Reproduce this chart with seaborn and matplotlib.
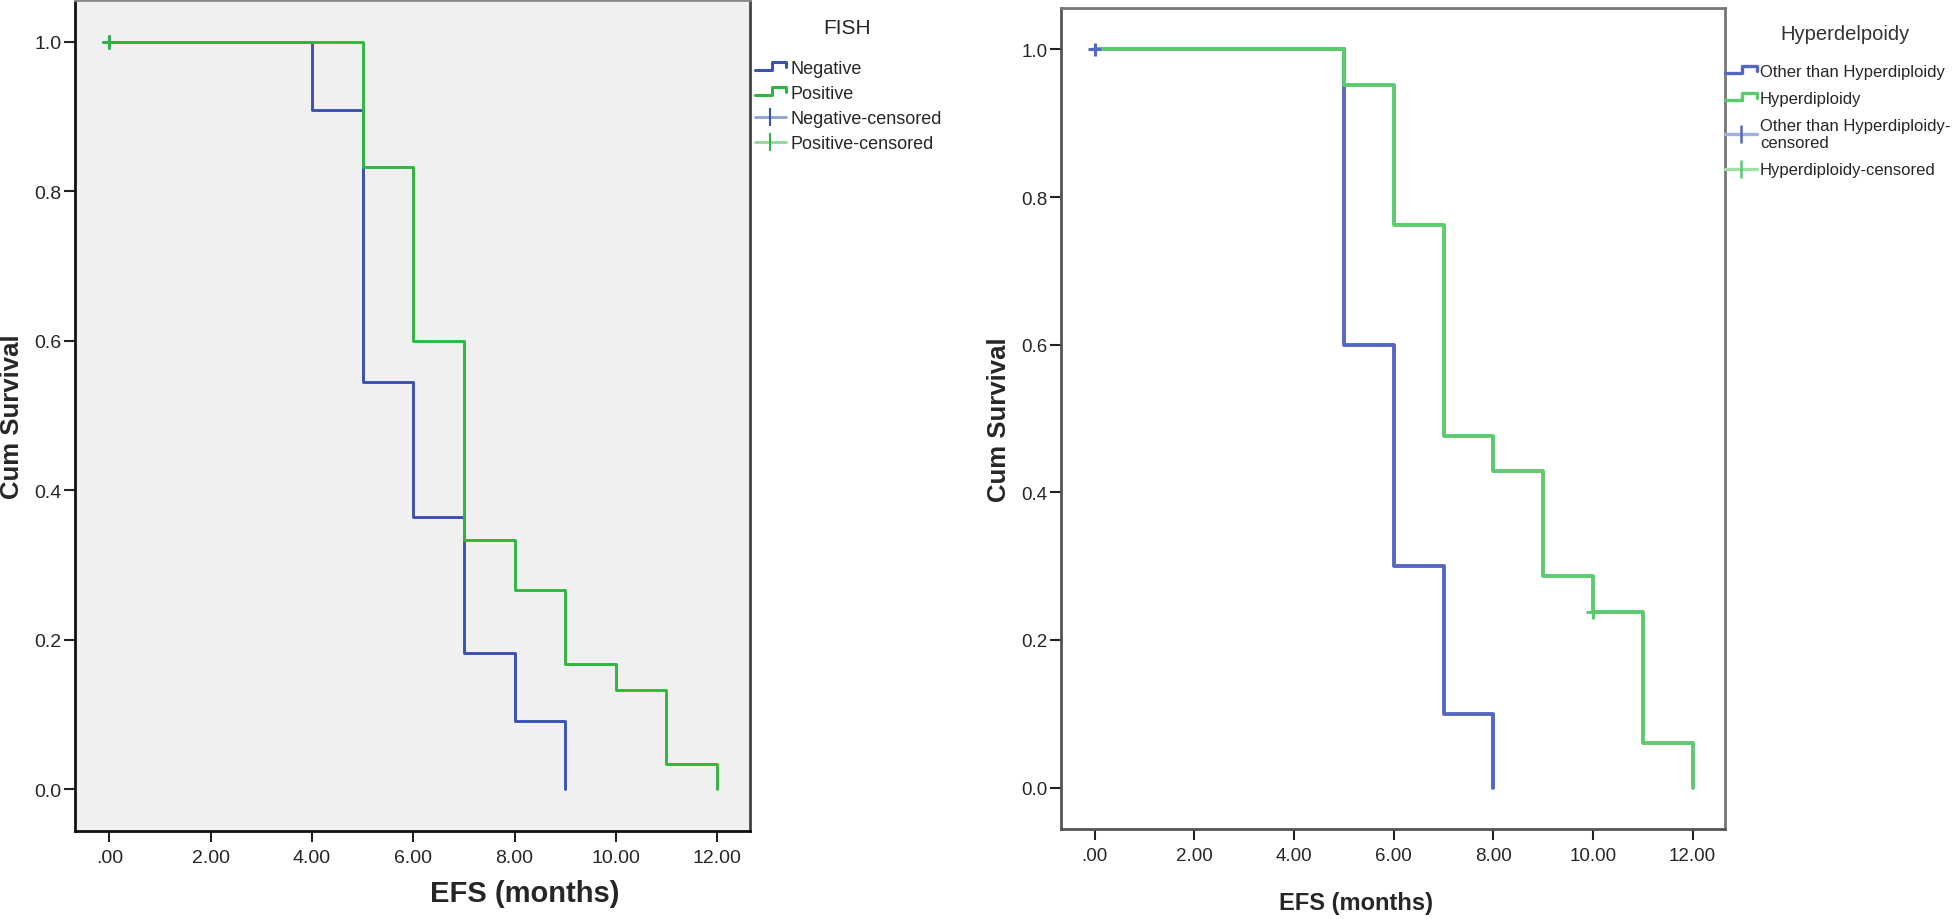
import numpy as np
import pandas as pd
import matplotlib
matplotlib.use('Agg')
import matplotlib.pyplot as plt
import seaborn as sns
from matplotlib.lines import Line2D
from matplotlib.legend_handler import HandlerBase

# Kaplan-Meier step values
fish_neg_time = [0, 4, 5, 6, 7, 8, 9]
fish_neg_surv = [1.0, 0.909, 0.545, 0.364, 0.182, 0.091, 0.0]
fish_pos_time = [0, 5, 6, 7, 8, 9, 10, 11, 12]
fish_pos_surv = [1.0, 0.833, 0.600, 0.333, 0.267, 0.167, 0.133, 0.033, 0.0]

hyp_other_time = [0, 5, 6, 7, 8]
hyp_other_surv = [1.0, 0.6, 0.3, 0.1, 0.0]
hyp_yes_time = [0, 5, 6, 7, 8, 9, 10, 11, 12]
hyp_yes_surv = [1.0, 0.952, 0.762, 0.476, 0.429, 0.286, 0.238, 0.060, 0.0]

# censored observations
fish_cens_group = ['Negative', 'Positive']
fish_cens_time = [0, 0]
fish_cens_surv = [1.0, 1.0]
hyp_cens_group = ['Other than Hyperdiploidy', 'Hyperdiploidy']
hyp_cens_time = [0, 10]
hyp_cens_surv = [1.0, 0.238]

x_ticks = [0, 2, 4, 6, 8, 10, 12]
x_tick_labels = ['.00', '2.00', '4.00', '6.00', '8.00', '10.00', '12.00']
y_ticks = [0.0, 0.2, 0.4, 0.6, 0.8, 1.0]
y_tick_labels = ['0.0', '0.2', '0.4', '0.6', '0.8', '1.0']

sns.set_style('ticks')
plt.rcParams['font.family'] = ['Liberation Sans', 'DejaVu Sans']


class StepHandler(HandlerBase):
    # SPSS-style little step icon in the legend
    def create_artists(self, legend, orig_handle, xdescent, ydescent,
                       width, height, fontsize, trans):
        xs = np.array([0.0, 0.55, 0.55, 1.0, 1.0]) * width - xdescent
        ys = np.array([0.25, 0.25, 0.85, 0.85, 0.45]) * height - ydescent
        ln = Line2D(xs, ys, color=orig_handle.get_color(),
                    lw=orig_handle.get_linewidth())
        ln.set_transform(trans)
        return [ln]


def km_frame(groups):
    rows = []
    for name, t, s in groups:
        for ti, si in zip(t, s):
            rows.append((name, ti, si))
    return pd.DataFrame(rows, columns=['group', 'time', 'surv'])


def style_axes(ax, face, spine_col, fs):
    ax.set_facecolor(face)
    ax.set_xlim(-0.68, 12.65)
    ax.set_ylim(-0.056, 1.056)
    ax.set_xticks(x_ticks)
    ax.set_xticklabels(x_tick_labels, fontsize=fs)
    ax.set_yticks(y_ticks)
    ax.set_yticklabels(y_tick_labels, fontsize=fs)
    ax.tick_params(direction='out', length=8, width=1.5, color='#222222', pad=1.5)
    ax.tick_params(axis='x', pad=5)
    for side in ['left', 'bottom', 'top', 'right']:
        ax.spines[side].set_visible(True)
        ax.spines[side].set_color(spine_col[side])
        ax.spines[side].set_linewidth(2)


fig = plt.figure(figsize=(19.6, 9.2), dpi=100)

# ---------------- left panel: FISH ----------------
ax1 = fig.add_axes([75 / 1960, 88 / 920, 675 / 1960, 831 / 920])
blue1, green1 = '#3a52b2', '#2db83d'
df1 = km_frame([('Negative', fish_neg_time, fish_neg_surv),
                ('Positive', fish_pos_time, fish_pos_surv)])
sns.lineplot(data=df1, x='time', y='surv', hue='group', estimator=None,
             palette={'Negative': blue1, 'Positive': green1},
             drawstyle='steps-post', linewidth=2.1, legend=False, ax=ax1)
cens1 = pd.DataFrame({'group': fish_cens_group, 'time': fish_cens_time, 'surv': fish_cens_surv})
sns.scatterplot(data=cens1, x='time', y='surv', hue='group', marker='+', s=110,
                linewidth=2, palette={'Negative': blue1, 'Positive': green1},
                legend=False, ax=ax1, zorder=5)
style_axes(ax1, '#f0f0f0',
           {'left': '#111111', 'bottom': '#111111', 'top': '#8a8a8a', 'right': '#444444'}, 14)
ax1.set_xlabel('EFS (months)', fontsize=21, fontweight='bold')
ax1.set_ylabel('Cum Survival', fontsize=18.5, fontweight='bold')
ax1.xaxis.set_label_coords(0.667, -0.058)
ax1.yaxis.set_label_coords(-0.075, 0.5)

fig.text(847 / 1960, 1 - 28 / 920, 'FISH', ha='center', va='center', fontsize=15)
h1 = [Line2D([], [], color=blue1, lw=2.2), Line2D([], [], color=green1, lw=2.2),
      Line2D([], [], color='#8fa0d8', lw=2, marker='|', markersize=13, mew=1.5, mec=blue1),
      Line2D([], [], color='#8fd89a', lw=2, marker='|', markersize=13, mew=1.5, mec=green1)]
fig.legend(h1, ['Negative', 'Positive', 'Negative-censored', 'Positive-censored'],
           loc='upper left', bbox_to_anchor=(755 / 1960, 1 - 61 / 920),
           frameon=False, fontsize=13, handlelength=1.7, handletextpad=0.25,
           labelspacing=0.45, borderpad=0, borderaxespad=0,
           handler_map={h1[0]: StepHandler(), h1[1]: StepHandler()})

# ---------------- right panel: Hyperdiploidy ----------------
ax2 = fig.add_axes([1061 / 1960, 90 / 920, 664 / 1960, 821 / 920])
blue2, green2 = '#5468c2', '#5ccb6e'
df2 = km_frame([('Other than Hyperdiploidy', hyp_other_time, hyp_other_surv),
                ('Hyperdiploidy', hyp_yes_time, hyp_yes_surv)])
pal2 = {'Other than Hyperdiploidy': blue2, 'Hyperdiploidy': green2}
sns.lineplot(data=df2, x='time', y='surv', hue='group', estimator=None,
             palette=pal2, drawstyle='steps-post', linewidth=2.8,
             legend=False, ax=ax2)
cens2 = pd.DataFrame({'group': hyp_cens_group, 'time': hyp_cens_time, 'surv': hyp_cens_surv})
sns.scatterplot(data=cens2, x='time', y='surv', hue='group', marker='+', s=90,
                linewidth=2.2, palette=pal2, legend=False, ax=ax2, zorder=5)
style_axes(ax2, 'white',
           {'left': '#555555', 'bottom': '#555555', 'top': '#777777', 'right': '#777777'}, 13.5)
ax2.set_xlabel('EFS (months)', fontsize=17, fontweight='bold')
ax2.set_ylabel('Cum Survival', fontsize=18.5, fontweight='bold')
ax2.xaxis.set_label_coords(0.444, -0.076)
ax2.yaxis.set_label_coords(-0.075, 0.5)

fig.text(1845 / 1960, 1 - 35 / 920, 'Hyperdelpoidy', ha='center', va='center',
         fontsize=14.5, color='#333333')
h2 = [Line2D([], [], color=blue2, lw=2.4), Line2D([], [], color=green2, lw=2.4),
      Line2D([], [], color='#a0aee0', lw=2.4, marker='|', markersize=13, mew=1.8, mec=blue2),
      Line2D([], [], color='#a0e0aa', lw=2.4, marker='|', markersize=13, mew=1.8, mec=green2)]
fig.legend(h2, ['Other than Hyperdiploidy', 'Hyperdiploidy',
                'Other than Hyperdiploidy-\ncensored', 'Hyperdiploidy-censored'],
           loc='upper left', bbox_to_anchor=(1725 / 1960, 1 - 65 / 920),
           frameon=False, fontsize=12, handlelength=1.9, handletextpad=0.2,
           labelspacing=0.72, borderpad=0, borderaxespad=0,
           handler_map={h2[0]: StepHandler(), h2[1]: StepHandler()})

plt.savefig('out.png', dpi=100)
plt.close()
